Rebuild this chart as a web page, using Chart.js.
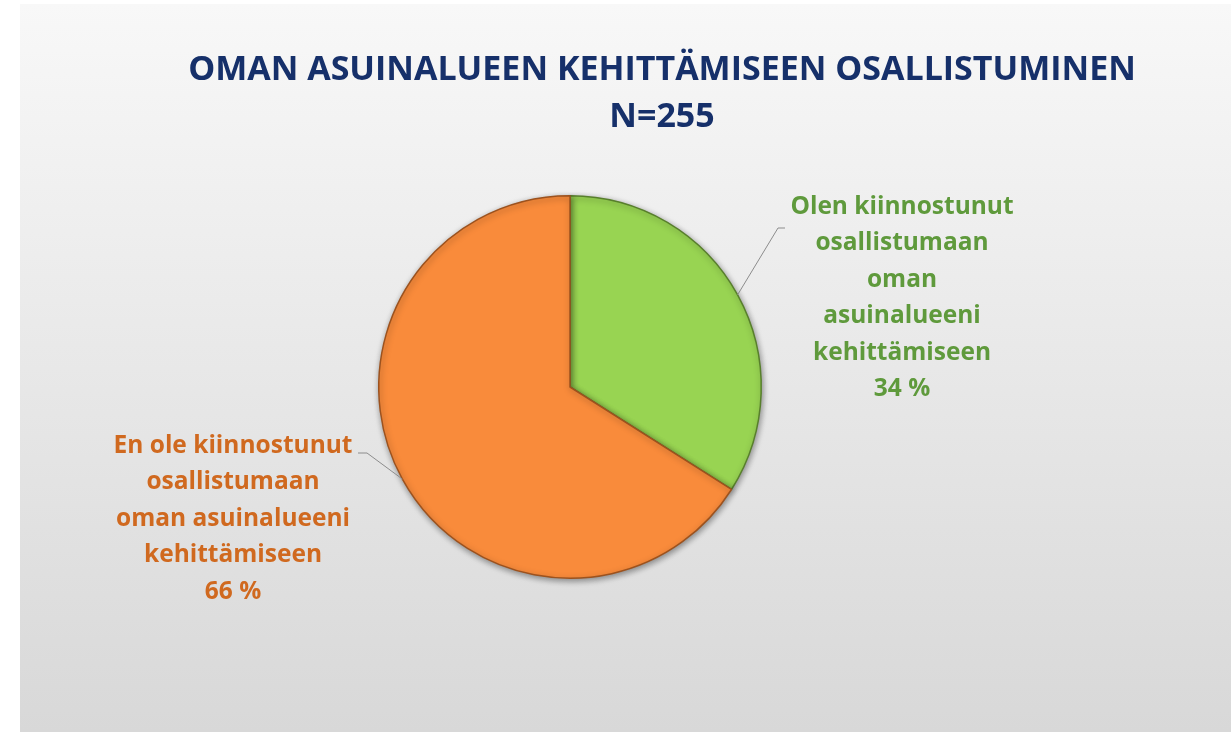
<!DOCTYPE html>
<html>
<head>
<meta charset="utf-8">
<script src="https://cdn.jsdelivr.net/npm/chart.js@4/dist/chart.umd.min.js"></script>
<style>
  html, body { margin: 0; padding: 0; background: #fff; }
  #panel {
    position: absolute; left: 20px; top: 4px; width: 1211px; height: 728px;
    background: linear-gradient(to bottom, #f8f8f8 0%, #d8d8d8 100%);
  }
</style>
</head>
<body>
<div id="panel"><canvas id="pie" width="1211" height="728"></canvas></div>
<script>
// chart data
const categories = [
  'Olen kiinnostunut osallistumaan oman asuinalueeni kehittämiseen',
  'En ole kiinnostunut osallistumaan oman asuinalueeni kehittämiseen'
];
const shares = [34, 66];
const labelLines = [
  ['Olen kiinnostunut', 'osallistumaan', 'oman', 'asuinalueeni', 'kehittämiseen'],
  ['En ole kiinnostunut', 'osallistumaan', 'oman asuinalueeni', 'kehittämiseen']
];
const titleLines = ['OMAN ASUINALUEEN KEHITTÄMISEEN OSALLISTUMINEN', 'N=255'];

// look
const fills = ['#98d452', '#f98b3b'];
const edges = ['#587f2c', '#9c521e'];
const textColors = ['#5f9a3c', '#d0691f'];
// label placement (x centre, first line y, elbow point, elbow end)
const labelBoxes = [
  { x: 882, y: 203, elbow: [758, 224], end: [765, 224] },
  { x: 213, y: 442, elbow: [347, 449], end: [338, 449] }
];

const titlePlugin = {
  id: 'titleText',
  afterDraw(chart) {
    const ctx = chart.ctx;
    ctx.save();
    ctx.fillStyle = '#16306a';
    ctx.font = 'bold 34px "Open Sans"';
    ctx.textAlign = 'center';
    ctx.textBaseline = 'middle';
    ctx.fillText(titleLines[0], 642, 66);
    ctx.fillText(titleLines[1], 642, 113);
    ctx.restore();
  }
};

const shadowPlugin = {
  id: 'pieShadow',
  beforeDatasetsDraw(chart) {
    const ctx = chart.ctx;
    ctx.save();
    ctx.shadowColor = 'rgba(0,0,0,0.4)';
    ctx.shadowBlur = 6;
    ctx.shadowOffsetX = 1;
    ctx.shadowOffsetY = 2;
  },
  afterDatasetsDraw(chart) {
    chart.ctx.restore();
  }
};

const labelPlugin = {
  id: 'outsideLabels',
  afterDatasetsDraw(chart) {
    const ctx = chart.ctx;
    const arcs = chart.getDatasetMeta(0).data;
    ctx.save();
    arcs.forEach((arc, i) => {
      const mid = (arc.startAngle + arc.endAngle) / 2;
      const sx = arc.x + Math.cos(mid) * arc.outerRadius;
      const sy = arc.y + Math.sin(mid) * arc.outerRadius;
      const box = labelBoxes[i];
      ctx.strokeStyle = '#8c8c8c';
      ctx.lineWidth = 1;
      ctx.beginPath();
      ctx.moveTo(sx, sy);
      ctx.lineTo(box.elbow[0], box.elbow[1]);
      ctx.lineTo(box.end[0], box.end[1]);
      ctx.stroke();

      const lines = labelLines[i].concat([shares[i] + ' %']);
      ctx.fillStyle = textColors[i];
      ctx.font = 'bold 24.5px "Open Sans"';
      ctx.textAlign = 'center';
      ctx.textBaseline = 'middle';
      lines.forEach((t, k) => ctx.fillText(t, box.x, box.y + k * 36.5));
    });
    ctx.restore();
  }
};

new Chart(document.getElementById('pie'), {
  type: 'pie',
  data: {
    labels: categories,
    datasets: [{
      data: shares,
      backgroundColor: fills,
      borderColor: edges,
      borderWidth: 1.5
    }]
  },
  options: {
    responsive: false,
    animation: false,
    layout: { padding: { left: 358, right: 469, top: 191, bottom: 153 } },
    plugins: {
      legend: { display: false },
      tooltip: { enabled: false },
      title: { display: false }
    }
  },
  plugins: [shadowPlugin, labelPlugin, titlePlugin]
});
</script>
</body>
</html>
